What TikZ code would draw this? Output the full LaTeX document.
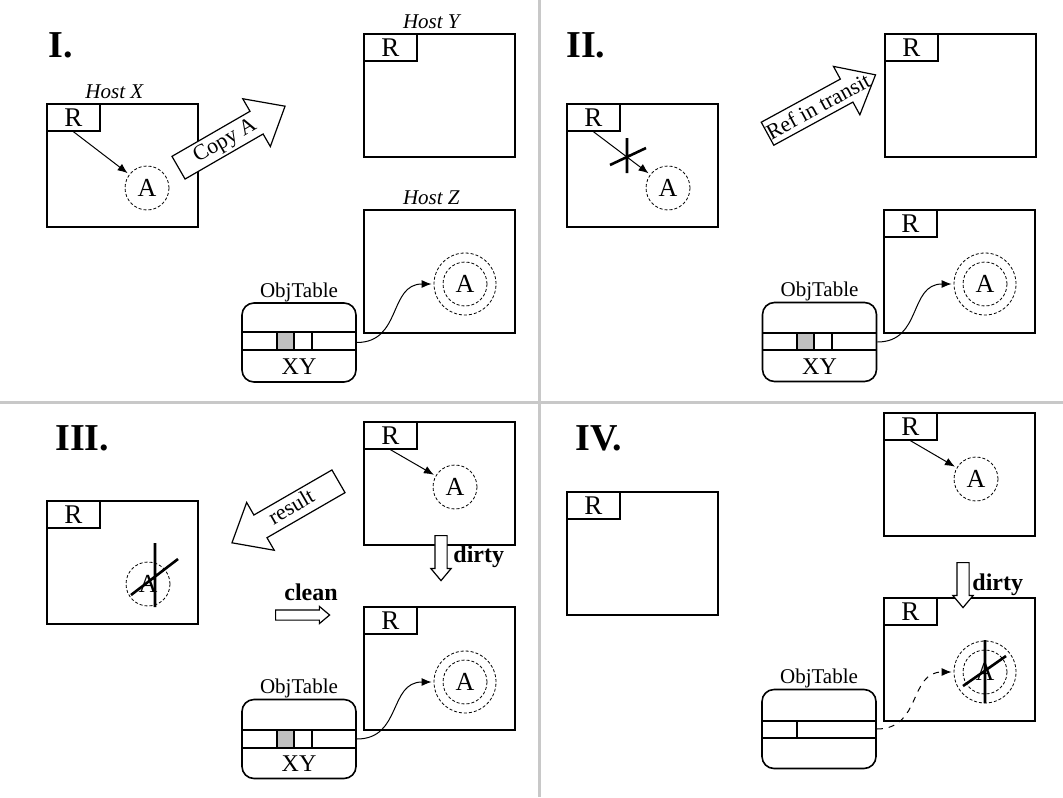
\documentclass[tikz,border=0pt]{standalone}
\usepackage{fontspec}
\setmainfont{Liberation Serif}
\usetikzlibrary{arrows.meta,shapes.arrows,positioning}
\definecolor{RuleGray}{HTML}{C8C8C8}
\definecolor{CellGray}{HTML}{C0C0C0}

\begin{document}
\begin{tikzpicture}[x=0.5pt, y=-0.5pt,
        host/.style={draw, line width=0.8pt, anchor=north west, minimum width=75.5pt, minimum height=61.5pt, inner sep=0pt},
        rtag/.style={draw, line width=0.8pt, anchor=north west, minimum width=26.5pt, minimum height=13.5pt, inner sep=0pt, font=\fontsize{13.5}{14}\selectfont},
        obj/.style={circle, draw, line width=0.4pt, dash pattern=on 1.5pt off 1pt, minimum size=22pt, inner sep=0pt, font=\fontsize{13}{14}\selectfont},
        objring/.style={circle, draw, line width=0.4pt, dash pattern=on 1.5pt off 1pt, minimum size=31pt, inner sep=0pt},
        tbl/.style={draw, line width=0.8pt, rounded corners=6pt, minimum width=57pt, minimum height=39.5pt, inner sep=0pt},
        tbllbl/.style={inner sep=0pt, font=\fontsize{10.5}{12}\selectfont},
        hostlbl/.style={inner sep=0pt, font=\itshape\fontsize{10.5}{12}\selectfont},
        lbl/.style={inner sep=0pt, font=\fontsize{12}{13}\selectfont},
        numeral/.style={anchor=west, inner sep=0pt, font=\bfseries\fontsize{19}{20}\selectfont},
        word/.style={inner sep=0pt, font=\bfseries\fontsize{12}{13}\selectfont},
        fatarrow/.style={single arrow, draw, fill=white, line width=0.6pt, single arrow tip angle=80,
            single arrow head extend=7.25pt, inner xsep=1pt, inner ysep=1pt, text height=8pt, text depth=2.5pt,
            minimum height=61.5pt, font=\fontsize{11}{12}\selectfont},
        thinarrow/.style={single arrow, draw, fill=white, line width=0.6pt, single arrow tip angle=80,
            single arrow head extend=2pt, inner sep=2.75pt, minimum height=22.5pt},
        ref/.style={->, line width=0.5pt, shorten >=1pt},
        cross/.style={line width=1.3pt},
        cell/.style={line width=0.8pt},
        divider/.style={RuleGray, line width=1.5pt},
        >={Latex[length=5pt, width=4pt]}]
    \useasboundingbox (0,0) rectangle (1063,797);
    \draw[divider] (539,0) -- (539,797);
    \draw[divider] (0,402) -- (1063,402);

    % I.
    \node[numeral] (aN) at (48,45) {I.};
    \node[host] (aX) at (46,103) {};
    \node[rtag] (aXr) at (aX.north west) {R};
    \node[hostlbl, above=2pt of aX, xshift=-4pt] (aXl) {Host X};
    \node[obj] (aXa) at (147,188) {A};
    \draw[ref] (aXr.south) -- (aXa);
    \node[fatarrow, rotate=30, anchor=tail] (aCp) at (178,168) {Copy A};

    \node[host] (aY) at (363,33) {};
    \node[rtag] (aYr) at (aY.north west) {R};
    \node[hostlbl, above=2pt of aY, xshift=-4pt] (aYl) {Host Y};

    \node[host] (aZ) at (363,209) {};
    \node[hostlbl, above=2pt of aZ, xshift=-4pt] (aZl) {Host Z};
    \node[objring] (aZo) at (465,284) {};
    \node[obj] (aZa) at (465,284) {A};

    \node[tbl] (aT) at (299,342.5) {};
    \node[tbllbl, above=0pt of aT] (aTl) {ObjTable};
    \filldraw[cell, fill=CellGray] (277,332) rectangle (294,350);
    \draw[cell] (242,332) -- (356,332) (242,350) -- (356,350) (312,332) -- (312,350);
    \node[lbl] (aTxy) at (299,367) {XY};
    \draw[ref] (aT.east) .. controls +(45,0) and +(-45,0) .. (aZo.west);

    % II.
    \node[numeral] (bN) at (566,45) {II.};
    \node[host] (bX) at (566,103) {};
    \node[rtag] (bXr) at (bX.north west) {R};
    \node[obj] (bXa) at (668,188) {A};
    \draw[ref] (bXr.south) -- (bXa);
    \draw[cross] (627,138) -- (627,173) (610,165) -- (646,148);
    \node[fatarrow, rotate=28.6, anchor=tail] (bRt) at (767,134) {};
    \node[rotate=28.6, inner sep=0pt, font=\fontsize{11}{12}\selectfont] (bRtl) at (818,106) {Ref in transit};

    \node[host] (bY) at (884,33) {};
    \node[rtag] (bYr) at (bY.north west) {R};

    \node[host] (bZ) at (883,209) {};
    \node[rtag] (bZr) at (bZ.north west) {R};
    \node[objring] (bZo) at (985,284) {};
    \node[obj] (bZa) at (985,284) {A};

    \node[tbl] (bT) at (819.5,342) {};
    \node[tbllbl, above=0pt of bT] (bTl) {ObjTable};
    \filldraw[cell, fill=CellGray] (797,333) rectangle (814,350);
    \draw[cell] (762,333) -- (877,333) (762,350) -- (877,350) (832,333) -- (832,350);
    \node[lbl] (bTxy) at (819.5,367) {XY};
    \draw[ref] (bT.east) .. controls +(45,0) and +(-45,0) .. (bZo.west);

    % III.
    \node[numeral] (cN) at (55,438) {III.};
    \node[host] (cX) at (46,500) {};
    \node[rtag] (cXr) at (cX.north west) {R};
    \node[obj] (cXa) at (148,584) {A};
    \draw[cross] (155,543) -- (155,607) (131,595) -- (178,559);
    \node[fatarrow, shape border rotate=180, rotate=30, anchor=tail] (cRs) at (339,481) {result};

    \node[host] (cY) at (363,421) {};
    \node[rtag] (cYr) at (cY.north west) {R};
    \node[obj] (cYa) at (455,487) {A};
    \draw[ref] (cYr.south) -- (cYa);
    \node[thinarrow, rotate=-90, anchor=tail] (cDa) at (441,535) {};
    \node[word, anchor=west] (cDl) at (453,557) {dirty};

    \node[word] (cCl) at (311,592) {clean};
    \node[thinarrow, inner sep=2.25pt, single arrow head extend=1.75pt, minimum height=27pt, anchor=tail] (cCa) at (275,615) {};

    \node[host] (cZ) at (363,606) {};
    \node[rtag] (cZr) at (cZ.north west) {R};
    \node[objring] (cZo) at (465,682) {};
    \node[obj] (cZa) at (465,682) {A};

    \node[tbl] (cT) at (299,739) {};
    \node[tbllbl, above=0pt of cT] (cTl) {ObjTable};
    \filldraw[cell, fill=CellGray] (277,730) rectangle (294,748);
    \draw[cell] (242,730) -- (356,730) (242,748) -- (356,748) (312,730) -- (312,748);
    \node[lbl] (cTxy) at (299,764) {XY};
    \draw[ref] (cT.east) .. controls +(45,0) and +(-45,0) .. (cZo.west);

    % IV.
    \node[numeral] (dN) at (575,438) {IV.};
    \node[host] (dX) at (566,491) {};
    \node[rtag] (dXr) at (dX.north west) {R};

    \node[host] (dY) at (883,412) {};
    \node[rtag] (dYr) at (dY.north west) {R};
    \node[obj] (dYa) at (976,479) {A};
    \draw[ref] (dYr.south) -- (dYa);

    \node[host] (dZ) at (883,597) {};
    \node[rtag] (dZr) at (dZ.north west) {R};
    \node[objring] (dZo) at (985,672) {};
    \node[obj] (dZa) at (985,672) {A};
    \draw[cross] (985,640) -- (985,703) (963,686) -- (1006,656);
    \node[thinarrow, rotate=-90, anchor=tail] (dDa) at (963,562) {};
    \node[word, anchor=west] (dDl) at (972,585) {dirty};

    \node[tbl] (dT) at (819,729) {};
    \node[tbllbl, above=0pt of dT] (dTl) {ObjTable};
    \draw[cell] (762,721) -- (876,721) (762,738) -- (876,738) (797,721) -- (797,738);
    \draw[ref, dashed] (dT.east) .. controls +(45,0) and +(-45,0) .. (dZo.west);
\end{tikzpicture}
\end{document}
